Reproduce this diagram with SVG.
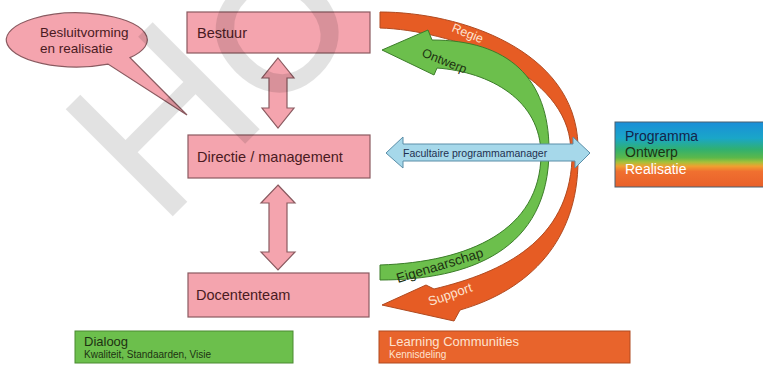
<svg xmlns="http://www.w3.org/2000/svg" width="763" height="365" viewBox="0 0 763 365">
<defs>
<style>
.t{font-family:"Liberation Sans",Arial,sans-serif}
.box{fill:#f4a4ae;stroke:#8a5a60;stroke-width:1.2}
.dbl{fill:#f4a4ae;stroke:#8a5a60;stroke-width:1.2}
.lbl{font-size:14.5px;fill:#4a1a22}
.or{fill:#e65c24;stroke:#b04a20;stroke-width:1}
.gr{fill:#6cbf4c;stroke:#3c7d2a;stroke-width:1}
</style>
<linearGradient id="lg" x1="0" y1="0" x2="0" y2="1">
<stop offset="0" stop-color="#1a8ed8"/>
<stop offset="0.25" stop-color="#1aa6c8"/>
<stop offset="0.42" stop-color="#30b070"/>
<stop offset="0.55" stop-color="#5cb84a"/>
<stop offset="0.62" stop-color="#a8c03a"/>
<stop offset="0.68" stop-color="#f0a030"/>
<stop offset="0.76" stop-color="#f07030"/>
<stop offset="1" stop-color="#e8602a"/>
</linearGradient>
</defs>
<rect width="763" height="365" fill="#ffffff"/>

<g id="callout">
<path d="M108,64.1 A70.5,27 0 1 1 130,57.6 L187,115 Z" class="box"/>
<text class="t" x="40" y="37" font-size="13.5" fill="#4a1a22">Besluitvorming</text>
<text class="t" x="40" y="53" font-size="13.5" fill="#4a1a22">en realisatie</text>
</g>

<g id="bestuur">
<rect x="187" y="12" width="183" height="41" class="box"/>
<text class="t lbl" x="197" y="38">Bestuur</text>
</g>
<g id="directie">
<rect x="188" y="135" width="182" height="43" class="box"/>
<text class="t lbl" x="197" y="162">Directie / management</text>
</g>
<g id="docententeam">
<rect x="188" y="273" width="181" height="44" class="box"/>
<text class="t lbl" x="196" y="300">Docententeam</text>
</g>

<g id="connectors">
<path class="dbl" d="M278,58 L294,78 L287,78 L287,108 L294,108 L278,128 L262,108 L269,108 L269,78 L262,78 Z"/>
<path class="dbl" d="M278,185 L295,203 L287,203 L287,252 L295,252 L278,270 L261,252 L269,252 L269,203 L261,203 Z"/>
</g>

<g id="regie-support">
<path class="or" d="M380,12 C460,12 575,50 578,145 L578,160 C578,240 530,290 460,310 L454,321 L382,305 L426,285 L434,289 C505,272 568,240 572,160 L570,140 C560,70 450,30 380,28 Z"/>
<text class="t" transform="translate(451,31) rotate(22)" font-size="12.5" fill="#fde2cf">Regie</text>
<text class="t" transform="translate(430,306) rotate(-19)" font-size="13" fill="#fde2cf">Support</text>
</g>

<g id="ontwerp-eigenaarschap">
<path class="gr" d="M380,265 C470,262 540,230 541,155 C541,100 490,72 437,68 L434,75 L382,50 L428,30 L432,40 C508,40 549,78 549,150 C549,250 470,280 380,280 Z"/>
<text class="t" transform="translate(421,56) rotate(22)" font-size="12.5" fill="#1d3212">Ontwerp</text>
<text class="t" transform="translate(398,283) rotate(-17)" font-size="13.5" fill="#1d3212">Eigenaarschap</text>
</g>

<g id="programmamanager">
<path d="M386,153 L403,137 L403,144 L573,144 L573,137 L590,153 L575,168 L575,161 L403,161 L403,168 Z" fill="#a6d8ea" stroke="#5a8ea8" stroke-width="1"/>
<text class="t" x="403" y="157" font-size="10.5" fill="#1e3050">Facultaire programmamanager</text>
</g>

<g id="legend">
<rect x="615" y="122" width="155" height="65" fill="url(#lg)" stroke="#4a6070" stroke-width="1"/>
<text class="t" x="625" y="141" font-size="14" fill="#14244a">Programma</text>
<text class="t" x="625" y="157" font-size="14" fill="#1d3212">Ontwerp</text>
<text class="t" x="625" y="174" font-size="14" fill="#ffffff">Realisatie</text>
</g>

<g id="dialoog">
<rect x="75" y="331" width="218" height="32" fill="#6cbf4c" stroke="#4a8a30" stroke-width="1"/>
<text class="t" x="84" y="346" font-size="13" fill="#1d3212">Dialoog</text>
<text class="t" x="84" y="358" font-size="10" fill="#1d3212">Kwaliteit, Standaarden, Visie</text>
</g>

<g id="learning">
<rect x="379" y="331" width="251" height="32" fill="#e8642c" stroke="#b04a20" stroke-width="1"/>
<text class="t" x="389" y="346" font-size="13" fill="#fde2cf">Learning Communities</text>
<text class="t" x="389" y="358" font-size="10" fill="#fde2cf">Kennisdeling</text>
</g>

<g id="watermark" opacity="0.11">
<text class="t" transform="translate(160,229) rotate(-45)" fill="#000"><tspan font-size="220">H</tspan><tspan font-size="165" stroke="#000" stroke-width="4">O</tspan></text>
</g>
</svg>
